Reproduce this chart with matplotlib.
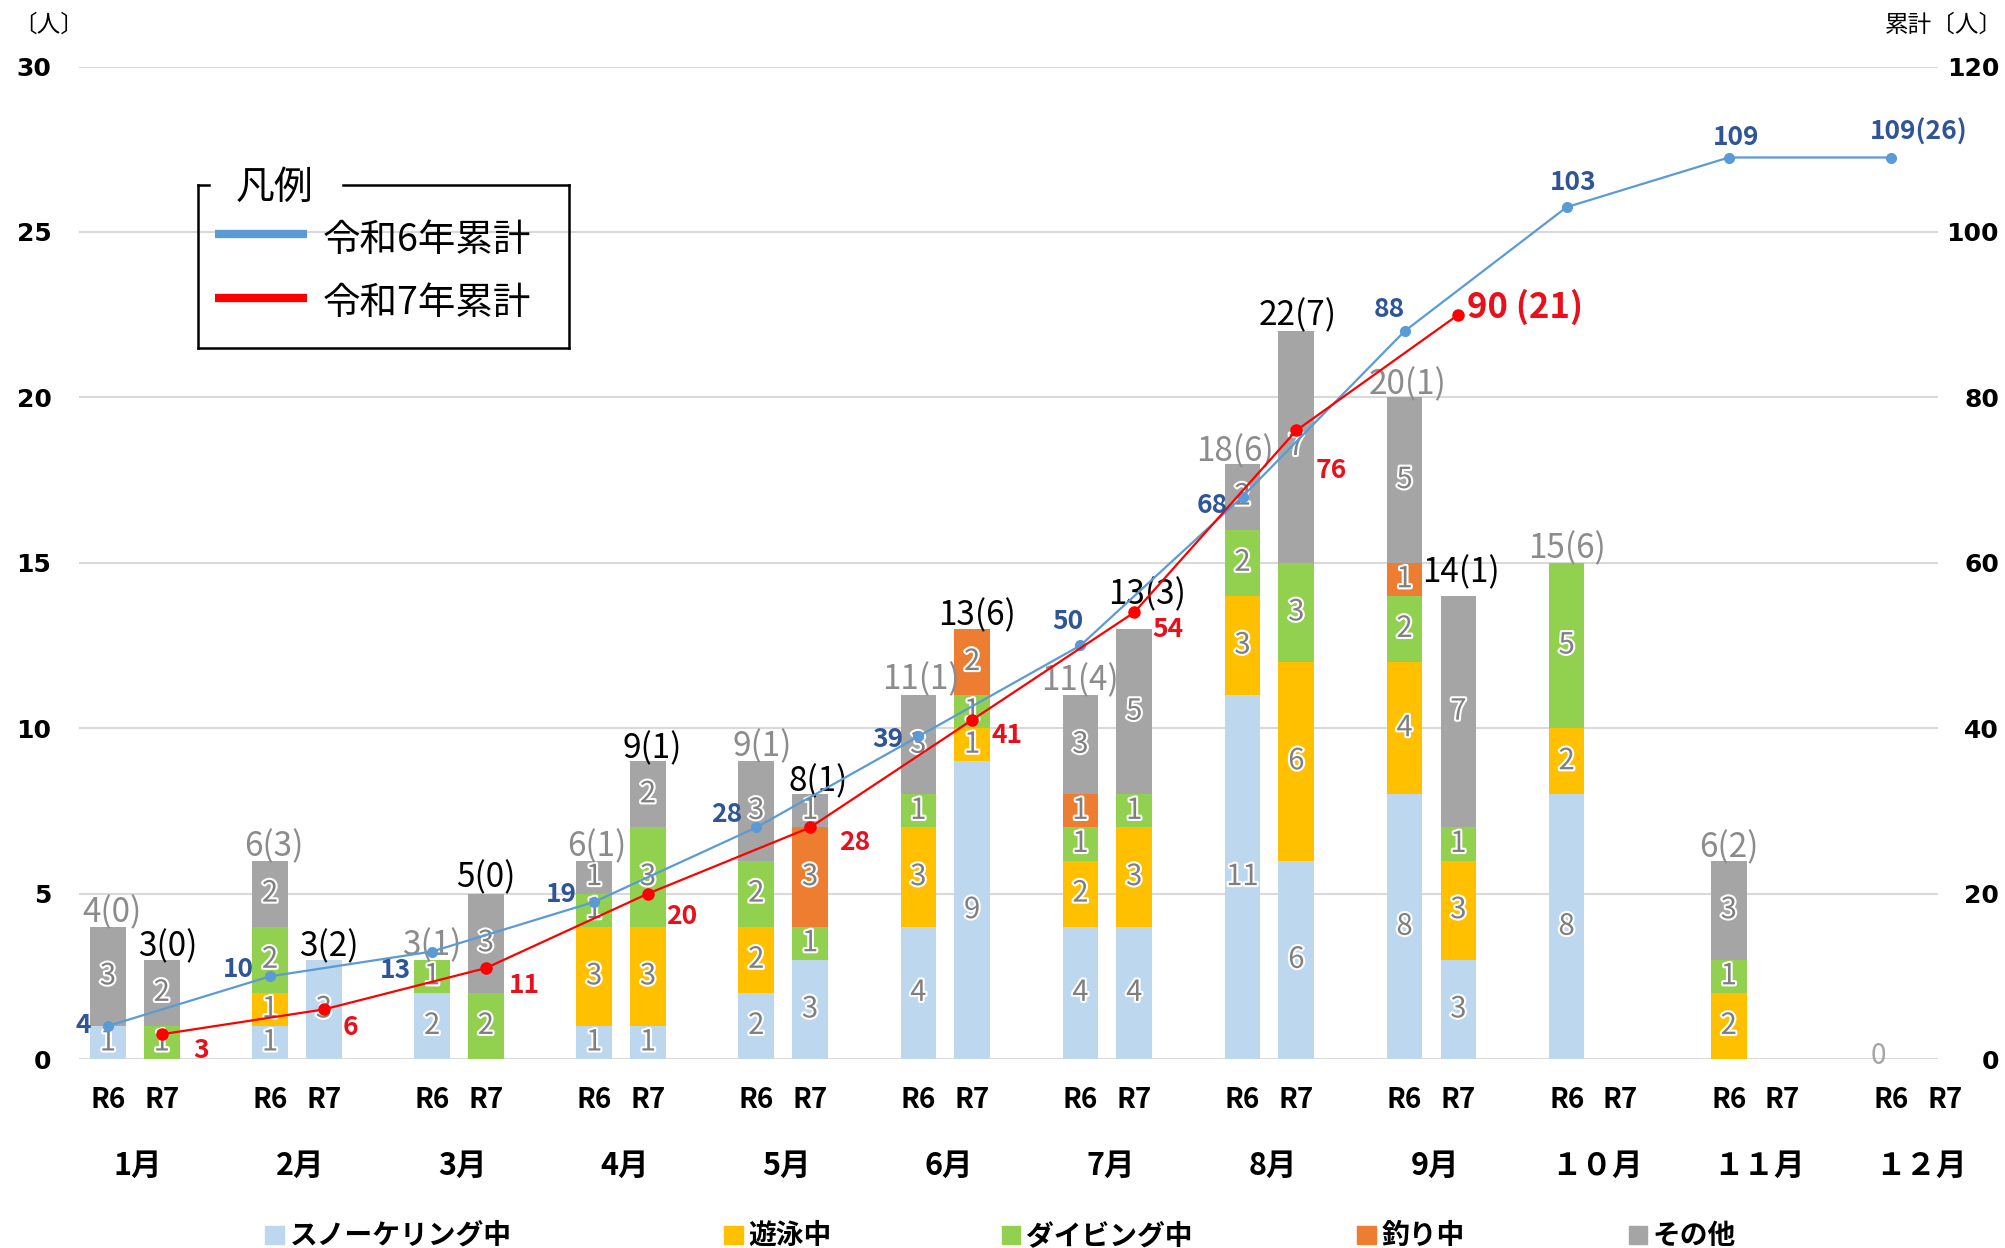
import matplotlib
matplotlib.use("Agg")
import numpy as np
import matplotlib.pyplot as plt
import matplotlib.patheffects as pe
from matplotlib.patches import Rectangle
from matplotlib.lines import Line2D

plt.rcParams['font.family'] = ['Noto Sans CJK JP', 'DejaVu Sans']

# ---- data ----
months = ['1月', '2月', '3月', '4月', '5月', '6月', '7月', '8月', '9月', '１０月', '１１月', '１２月']
categories = ['スノーケリング中', '遊泳中', 'ダイビング中', '釣り中', 'その他']

# 令和6年 (R6) by category and month
r6_snorkel = [1, 1, 2, 1, 2, 4, 4, 11, 8, 8, 0, 0]
r6_swim    = [0, 1, 0, 3, 2, 3, 2, 3, 4, 2, 2, 0]
r6_diving  = [0, 2, 1, 1, 2, 1, 1, 2, 2, 5, 1, 0]
r6_fishing = [0, 0, 0, 0, 0, 0, 1, 0, 1, 0, 0, 0]
r6_other   = [3, 2, 0, 1, 3, 3, 3, 2, 5, 0, 3, 0]

# 令和7年 (R7), Jan-Sep
r7_snorkel = [0, 3, 0, 1, 3, 9, 4, 6, 3]
r7_swim    = [0, 0, 0, 3, 0, 1, 3, 6, 3]
r7_diving  = [1, 0, 2, 3, 1, 1, 1, 3, 1]
r7_fishing = [0, 0, 0, 0, 3, 2, 0, 0, 0]
r7_other   = [2, 0, 3, 2, 1, 0, 5, 7, 7]

r6_total_labels = ['4(0)', '6(3)', '3(1)', '6(1)', '9(1)', '11(1)', '11(4)', '18(6)', '20(1)', '15(6)', '6(2)', '0']
r7_total_labels = ['3(0)', '3(2)', '5(0)', '9(1)', '8(1)', '13(6)', '13(3)', '22(7)', '14(1)']

r6_cum = [4, 10, 13, 19, 28, 39, 50, 68, 88, 103, 109, 109]
r7_cum = [3, 6, 11, 20, 28, 41, 54, 76, 90]
r6_cum_labels = ['4', '10', '13', '19', '28', '39', '50', '68', '88', '103', '109', '109(26)']
r7_cum_labels = ['3', '6', '11', '20', '28', '41', '54', '76', '90 (21)']

# ---- styles ----
cat_colors = ['#bdd7ee', '#ffc000', '#92d050', '#ed7d31', '#a5a5a5']
blue_line = '#5b9bd5'
red_line = '#ff0000'
blue_text = '#2f5597'
red_text = '#e8101a'
# label offsets in points (dx, dy)
r6_cum_off = [(-19, 0), (-25, 5), (-29, -15), (-26, 6), (-23, 10), (-24, -2),
              (-10, 19), (-24, -7), (-12, 17), (5, 19), (6, 16), (22, 20)]
r7_cum_off = [(31, -13), (21, -14), (30, -14), (26, -18), (35, -12), (27, -12),
              (26, -13), (27, -31), (52, 6)]
r6_tot_off = [(3, 11), (3, 11), (0, 11), (2, 11), (5, 11), (2, 12), (0, 11),
              (-6, 9), (2, 10), (0, 11), (0, 10), (-10, 2)]
r7_tot_off = [(5, 10), (4, 10), (0, 12), (3, 10), (6, 10), (4, 10), (10, 27),
              (1, 12), (2, 18)]

fig = plt.figure(figsize=(20.06, 12.48), dpi=100)
ax = fig.add_axes([0.0395, 0.1514, 0.9266, 0.7953])

x = np.arange(len(months))
x6 = x - 0.166
x7 = x[:len(r7_cum)] + 0.166
width = 0.22

outline = [pe.withStroke(linewidth=3, foreground='white')]


def draw_stack(xpos, series):
    bottom = np.zeros(len(xpos))
    for vals, col in zip(series, cat_colors):
        vals = np.array(vals, dtype=float)
        ax.bar(xpos, vals, width, bottom=bottom, color=col, zorder=2)
        for xi, b, v in zip(xpos, bottom, vals):
            if v > 0:
                ax.text(xi, b + v / 2, f'{int(v)}', ha='center', va='center',
                        fontsize=21, color='#7f7f7f', path_effects=outline, zorder=3)
        bottom += vals
    return bottom


top6 = draw_stack(x6, [r6_snorkel, r6_swim, r6_diving, r6_fishing, r6_other])
top7 = draw_stack(x7, [r7_snorkel, r7_swim, r7_diving, r7_fishing, r7_other])

for xi, t, lab, (dx, dy) in zip(x6, top6, r6_total_labels, r6_tot_off):
    ax.annotate(lab, (xi, t), xytext=(dx * 0.92, dy * 0.92), textcoords='offset points',
                ha='center', va='center', fontsize=20 if t == 0 else 24,
                color='#a6a6a6' if t == 0 else '#8c8c8c', zorder=4)
for xi, t, lab, (dx, dy) in zip(x7, top7, r7_total_labels, r7_tot_off):
    ax.annotate(lab, (xi, t), xytext=(dx * 0.92, dy * 0.92), textcoords='offset points',
                ha='center', va='center', fontsize=24, color='black', zorder=4)

ax.set_xlim(-0.343, 11.125)
ax.set_ylim(0, 30)
ax.set_yticks(range(0, 31, 5))
ax.set_yticklabels([str(v) for v in range(0, 31, 5)], fontsize=18,
                   fontweight='bold', family='DejaVu Sans')
ax.tick_params(axis='y', length=0, pad=20)
ax.set_xticks([])
ax.yaxis.grid(True, color='#d9d9d9', lw=1.5)
ax.set_axisbelow(True)
for s in ax.spines.values():
    s.set_visible(False)

# R6 / R7 and month labels below the axis
xt = ax.get_xaxis_transform()
for i in range(len(months)):
    ax.text(i - 0.166, -0.041, 'R6', transform=xt, ha='center', va='center',
            fontsize=20, fontweight='bold', clip_on=False)
    ax.text(i + 0.166, -0.041, 'R7', transform=xt, ha='center', va='center',
            fontsize=20, fontweight='bold', clip_on=False)
    ax.text(i + 0.02, -0.108, months[i], transform=xt, ha='center', va='center',
            fontsize=22, fontweight='bold', clip_on=False)

# cumulative lines on the right axis
ax2 = ax.twinx()
ax2.set_ylim(0, 120)
ax2.set_yticks(range(0, 121, 20), labels=[str(v) for v in range(0, 121, 20)],
               ha='right', fontsize=18, fontweight='bold', family='DejaVu Sans')
ax2.tick_params(axis='y', length=0, pad=44)
for s in ax2.spines.values():
    s.set_visible(False)

ax2.plot(x6, r6_cum, color=blue_line, lw=1.6, marker='o', ms=7, clip_on=False, zorder=5)
ax2.plot(x7, r7_cum, color=red_line, lw=1.6, marker='o', ms=8, clip_on=False, zorder=6)

for xi, v, lab, (dx, dy) in zip(x6, r6_cum, r6_cum_labels, r6_cum_off):
    ax2.annotate(lab, (xi, v), xytext=(dx * 0.92, dy * 0.92), textcoords='offset points',
                 ha='center', va='center', fontsize=19, fontweight='bold',
                 color=blue_text, zorder=7, annotation_clip=False)
for i, (xi, v, lab, (dx, dy)) in enumerate(zip(x7, r7_cum, r7_cum_labels, r7_cum_off)):
    big = i == len(r7_cum) - 1
    ax2.annotate(lab, (xi, v), xytext=(dx * 0.92, dy * 0.92), textcoords='offset points',
                 ha='center', va='center', fontsize=25 if big else 19, fontweight='bold',
                 color=red_text, zorder=7)

# axis unit captions
fig.text(0.0065, 0.9795, '〔人〕', fontsize=17, ha='left', va='center')
fig.text(0.9395, 0.9795, '累計〔人〕', fontsize=17, ha='left', va='center')

# legend box (凡例)
lx0, lx1, ly0, ly1 = 0.0988, 0.2837, 0.7212, 0.8514
for xs, ys in [([lx0, 0.104], [ly1, ly1]), ([0.1709, lx1], [ly1, ly1]),
               ([lx1, lx1], [ly1, ly0]), ([lx1, lx0], [ly0, ly0]), ([lx0, lx0], [ly0, ly1])]:
    fig.add_artist(Line2D(xs, ys, transform=fig.transFigure, color='black', lw=1.8))
fig.text(0.137, ly1 - 0.002, '凡例', fontsize=28, ha='center', va='center')
fig.add_artist(Line2D([0.1071, 0.1531], [0.8125, 0.8125], transform=fig.transFigure,
                      color=blue_line, lw=6, solid_capstyle='butt'))
fig.add_artist(Line2D([0.1071, 0.1531], [0.7612, 0.7612], transform=fig.transFigure,
                      color=red_line, lw=6, solid_capstyle='butt'))
fig.text(0.1607, 0.8073, '令和6年累計', fontsize=27, ha='left', va='center')
fig.text(0.1607, 0.7570, '令和7年累計', fontsize=27, ha='left', va='center')

# category legend along the bottom
sq_x = [0.1322, 0.3610, 0.4993, 0.6767, 0.8119]
for sx, name, col in zip(sq_x, categories, cat_colors):
    fig.add_artist(Rectangle((sx, 0.0035), 0.0092, 0.0144, transform=fig.transFigure,
                             color=col))
    fig.text(sx + 0.0121, 0.0096, name, fontsize=20, fontweight='bold',
             ha='left', va='center')

fig.savefig('out.png', dpi=100)
